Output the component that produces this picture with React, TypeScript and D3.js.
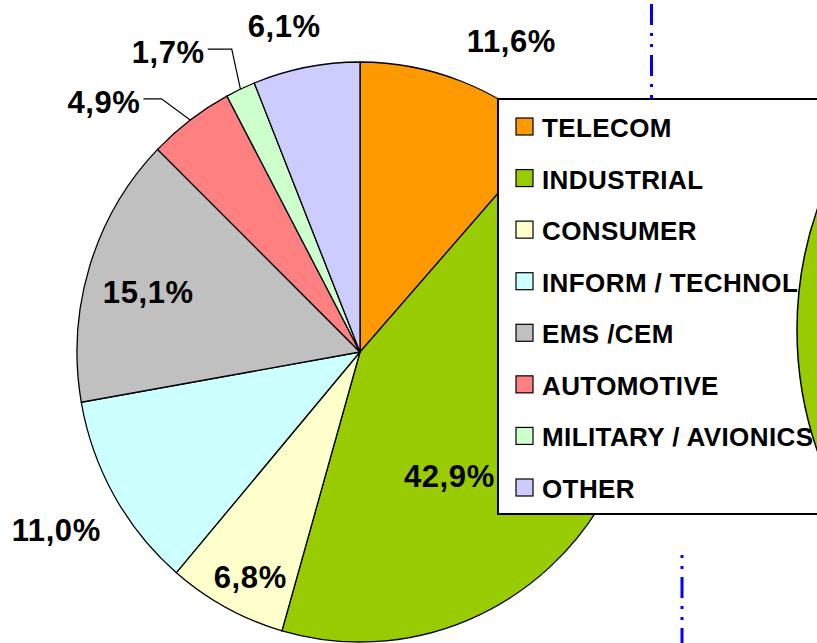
import React from 'react';
import * as d3 from 'd3';

// market share by segment (%)
const categories = ['TELECOM', 'INDUSTRIAL', 'CONSUMER', 'INFORM / TECHNOL', 'EMS /CEM', 'AUTOMOTIVE', 'MILITARY / AVIONICS', 'OTHER'];
const shares = [11.6, 42.9, 6.8, 11.0, 15.1, 4.9, 1.7, 6.1];
const shareLabels = ['11,6%', '42,9%', '6,8%', '11,0%', '15,1%', '4,9%', '1,7%', '6,1%'];
const colors = ['#FF9900', '#99CC00', '#FFFFCC', '#CCFFFF', '#C0C0C0', '#FF8080', '#CCFFCC', '#CCCCFF'];

// label layout: angle shift (deg) from slice middle, distance from centre, leader elbow length (0 = none)
const labelShift = [5.1, 25.4, -2.2, -0.6, -1.4, -8.8, -7.6, -2.1];
const labelDist = [346, 153, 250, 352, 220, 358, 356, 335];
const leaderLen = [0, 0, 0, 0, 0, 18, 24, 0];

const W = 817, H = 643;
const cx = 360, cy = 352;
const ry = 290, rx = 283;
const FONT = '"Liberation Sans", Arial, sans-serif';

export default function App() {
    const pie = d3.pie<number>().sort(null).value(d => d);
    const arcs = pie(shares);
    const arc = d3.arc<d3.PieArcDatum<number>>().innerRadius(0).outerRadius(ry);
    const sx = rx / ry;

    // legend rows
    const rowY = d3.scaleLinear().domain([0, categories.length - 1]).range([137, 498]);

    const polar = (a: number, r: number, scaleX = 1) => [cx + Math.sin(a) * r * scaleX, cy - Math.cos(a) * r];

    const labelFont = 31;
    const labelSpacing = 0.6;
    const measure = (t: string) => {
        // rough Arial bold widths
        let w = 0;
        for (const ch of t) w += ch === ',' ? 0.278 : ch === '%' ? 0.889 : 0.556;
        return w * labelFont + labelSpacing * t.length;
    };

    const line = d3.line();

    return (
        <svg width={W} height={H} style={{ position: 'absolute', left: 0, top: 0, background: '#fff' }}
             fontFamily={FONT}>
            <rect width={W} height={H} fill="#fff" />
            <g transform={`translate(${cx},${cy}) scale(${sx},1)`}>
                {arcs.map((a, i) => (
                    <path key={i} d={arc(a) || ''} fill={colors[i]} stroke="#000" strokeWidth={1.3}
                          vectorEffect="non-scaling-stroke" />
                ))}
            </g>
            {arcs.map((a, i) => {
                const mid = (a.startAngle + a.endAngle) / 2;
                const ang = mid + (labelShift[i] * Math.PI) / 180;
                const [lx, ly] = polar(ang, labelDist[i]);
                const els = [
                    <text key={'t' + i} x={lx} y={ly + 11} textAnchor="middle" fontSize={labelFont}
                          fontWeight="bold" letterSpacing={labelSpacing} fill="#000">{shareLabels[i]}</text>
                ];
                if (leaderLen[i] > 0) {
                    const sxp = lx + measure(shareLabels[i]) / 2 + 3;
                    const syp = ly - 3;
                    const end = polar(mid, ry, sx);
                    els.push(
                        <path key={'l' + i}
                              d={line([[sxp, syp], [sxp + leaderLen[i], syp], [end[0], end[1]]]) || ''}
                              fill="none" stroke="#000" strokeWidth={1.2} />
                    );
                }
                return els;
            })}
            {/* legend */}
            <rect x={498} y={99} width={340} height={415} fill="#fff" stroke="#000" strokeWidth={2} />
            {categories.map((c, i) => (
                <g key={c}>
                    <rect x={516} y={rowY(i) - 19} width={17} height={17} fill={colors[i]} stroke="#000" strokeWidth={1.2} />
                    <text x={542} y={rowY(i)} fontSize={26} fontWeight="bold" letterSpacing={0.4} fill="#000">{c}</text>
                </g>
            ))}
            {/* neighbouring chart, cut off at the right edge */}
            <circle cx={1167} cy={330} r={370} fill="#99CC00" stroke="#000" strokeWidth={1.5} />
            {/* blue dash-dot guides */}
            <line x1={651.5} x2={651.5} y1={4} y2={98} stroke="#0000FF" strokeWidth={3} strokeDasharray="21 8 3 8 3 8" />
            <line x1={682} x2={682} y1={555} y2={643} stroke="#0000FF" strokeWidth={3} strokeDasharray="3 8 3 8 21 8" />
        </svg>
    );
}
